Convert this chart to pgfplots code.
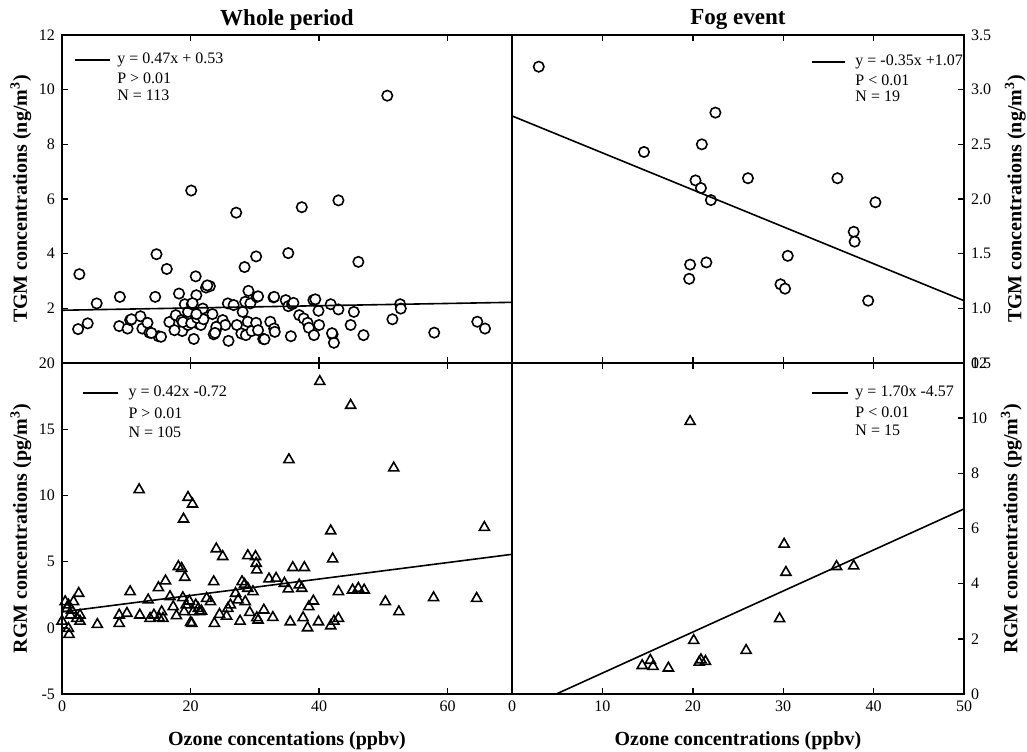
\documentclass[border=0pt]{standalone}
\usepackage{fontspec}
\setmainfont{Liberation Serif}
\usepackage{pgfplots}
\pgfplotsset{compat=1.18}

\pgfplotsset{
  panel/.style={
    scale only axis,
    axis line style={line width=1pt},
    tick align=inside,
    major tick length=3pt,
    tick style={line width=0.7pt, black},
    xtick pos=both,
    ticklabel style={font=\fontsize{8}{9}\selectfont},
    /pgf/number format/assume math mode=true,
    label style={font=\bfseries\fontsize{10}{12}\selectfont},
    xlabel style={yshift=-3pt},
    title style={font=\bfseries\fontsize{11.5}{13}\selectfont, yshift=-7pt},
    clip mode=individual,
  },
  circ/.style={only marks, mark=*, mark size=2.6pt,
    mark options={line width=0.8pt, draw=black, fill=white}},
  tri/.style={only marks, mark=triangle, mark size=2.9pt,
    mark options={line width=0.8pt, draw=black}},
  fitline/.style={no marks, line width=0.8pt, black},
}
\tikzset{leg/.style={anchor=west, inner sep=0pt, font=\fontsize{8}{9}\selectfont}}

\begin{document}
\begin{tikzpicture}

% top left: TGM, whole period
\begin{axis}[panel, at={(31pt,194pt)}, anchor=south west,
  width=225pt, height=164pt,
  xmin=0, xmax=70, ymin=0, ymax=12,
  xtick={0,20,40,60}, xticklabels={},
  ytick={2,4,...,12}, ytick pos=left,
  ylabel shift=-3pt,
  ylabel={TGM concentrations (ng/m\textsuperscript{3})},
  title={Whole period}]
\addplot[circ] table {
2.7 3.25
2.5 1.24
4.0 1.45
5.4 2.18
9.0 2.42
8.9 1.35
10.2 1.26
10.6 1.57
12.2 1.71
12.5 1.26
13.3 1.47
13.6 1.11
14.7 3.98
14.5 2.42
15.0 0.98
15.4 0.96
16.3 3.44
16.7 1.50
17.7 1.75
18.2 2.54
18.6 1.57
18.7 1.17
19.1 2.15
19.6 1.87
19.6 1.39
20.1 6.31
20.2 2.15
20.5 0.88
20.8 3.17
20.9 2.48
21.1 1.45
21.3 1.81
21.6 1.39
21.9 1.99
22.4 2.76
23.0 2.81
23.4 1.79
23.6 1.05
23.9 1.17
24.1 1.33
25.0 1.57
25.4 1.39
25.9 0.81
25.8 2.18
26.7 2.12
27.1 5.50
27.2 1.39
27.9 1.08
28.1 1.87
28.4 3.51
28.6 1.02
28.5 2.24
28.9 1.51
29.0 2.64
29.3 2.18
29.5 1.17
30.2 3.90
30.3 2.42
30.2 1.47
30.5 1.20
31.3 0.88
32.4 1.51
32.9 2.40
33.0 1.26
33.1 1.14
34.8 2.30
35.2 4.02
35.2 2.08
35.6 0.98
35.8 2.15
36.9 1.75
37.3 5.70
37.6 1.63
38.2 1.47
38.4 1.29
39.1 2.30
39.2 1.02
39.9 1.91
40.0 1.39
41.8 2.15
42.1 1.05
42.3 0.74
43.0 5.95
43.0 1.96
44.9 1.39
45.4 1.87
46.1 3.70
46.9 1.02
50.6 9.78
51.4 1.60
52.6 2.15
52.7 1.99
57.9 1.11
64.6 1.51
65.8 1.26
18.8 1.50
20.1 1.46
21.0 1.65
24.0 1.32
23.8 1.10
22.6 2.84
20.3 2.19
22.0 1.60
30.5 2.44
33.0 2.42
36.0 2.20
39.4 2.33
42.0 1.09
13.9 1.10
10.8 1.60
31.5 0.87
20.9 1.79
17.5 1.20
};
\addplot[fitline] coordinates {(0,1.93) (70,2.22)};
\draw[line width=0.8pt] (axis description cs:0.029,0.924) -- (axis description cs:0.107,0.924);
\node[leg] at (axis description cs:0.122,0.924) {y = 0.47x + 0.53};
\node[leg] at (axis description cs:0.122,0.869) {P > 0.01};
\node[leg] at (axis description cs:0.122,0.817) {N = 113};
\end{axis}

% top right: TGM, fog event
\begin{axis}[panel, at={(256pt,194pt)}, anchor=south west,
  width=226pt, height=164pt,
  xmin=0, xmax=50, ymin=0.5, ymax=3.5,
  xtick={0,10,...,50}, xticklabels={},
  ytick={0.5,1.0,...,3.5}, ytick pos=right, yticklabel pos=right,
  yticklabel style={/pgf/number format/.cd, fixed, fixed zerofill, precision=1},
  ylabel={TGM concentrations (ng/m\textsuperscript{3})},
  title={Fog event}]
\addplot[circ] table {
2.96 3.21
14.6 2.43
20.3 2.17
20.9 2.10
21.0 2.50
22.0 1.99
22.5 2.79
19.7 1.40
19.6 1.27
21.5 1.42
26.1 2.19
29.7 1.22
30.2 1.18
30.5 1.48
36.0 2.19
37.8 1.70
37.9 1.61
40.2 1.97
39.4 1.07
};
\addplot[fitline] coordinates {(0,2.76) (50,1.07)};
\draw[line width=0.8pt] (axis description cs:0.664,0.918) -- (axis description cs:0.737,0.918);
\node[leg] at (axis description cs:0.759,0.918) {y = -0.35x +1.07};
\node[leg] at (axis description cs:0.759,0.863) {P < 0.01};
\node[leg] at (axis description cs:0.759,0.814) {N = 19};
\end{axis}

% bottom left: RGM, whole period
\begin{axis}[panel, at={(31pt,28.5pt)}, anchor=south west,
  width=225pt, height=165.5pt,
  xmin=0, xmax=70, ymin=-5, ymax=20,
  xtick={0,20,40,60},
  ytick={-5,0,...,20}, ytick pos=left,
  ylabel shift=-3pt,
  xlabel={Ozone concentations (ppbv)},
  ylabel={RGM concentrations (pg/m\textsuperscript{3})}]
\addplot[tri] table {
0.0 0.5
0.5 1.97
0.8 1.46
1.0 1.72
1.3 0.96
1.0 -0.05
1.1 -0.5
1.5 1.34
1.8 1.97
2.3 0.71
2.6 2.6
2.8 0.5
2.8 0.96
5.5 0.25
8.9 0.33
8.9 0.96
10.1 1.09
10.6 2.73
12.0 10.43
12.1 0.96
13.4 2.1
13.7 0.71
14.3 0.96
15.0 3.03
15.1 0.76
15.5 1.21
15.7 0.71
16.1 3.54
16.8 2.35
17.3 1.59
17.8 0.91
18.1 4.62
18.6 4.49
18.9 8.21
19.1 3.81
18.8 2.27
19.0 1.21
19.3 1.72
19.6 9.85
20.3 9.34
19.8 2.02
20.0 0.4
20.2 0.33
20.4 1.21
20.8 1.72
21.2 1.46
21.4 1.21
21.7 1.26
22.5 2.22
23.1 1.97
23.6 3.48
23.7 0.33
24.0 5.96
25.0 5.38
24.5 1.01
25.6 0.88
25.8 1.46
26.2 1.72
27.0 2.6
27.4 2.1
27.7 0.5
28.0 3.48
28.4 3.28
28.5 1.97
28.9 5.45
28.9 2.98
29.2 1.16
29.7 2.73
30.1 5.38
30.2 4.87
30.3 4.37
30.3 0.76
30.5 0.58
31.4 1.34
32.2 3.69
32.8 0.78
33.3 3.74
34.6 3.36
35.3 12.7
35.2 2.93
35.5 0.45
35.9 4.55
36.9 3.23
37.3 2.98
37.7 4.55
37.5 0.76
38.2 0.0
38.4 1.59
39.1 2.02
39.9 0.45
40.1 18.6
41.8 7.32
42.1 5.2
41.8 0.15
42.3 0.5
43.0 0.71
43.0 2.73
44.9 16.8
45.2 2.85
46.1 2.98
47.0 2.85
50.3 1.97
51.6 12.07
52.4 1.21
57.8 2.27
64.5 2.22
65.7 7.58
};
\addplot[fitline] coordinates {(0,1.2) (70,5.55)};
\draw[line width=0.8pt] (axis description cs:0.047,0.909) -- (axis description cs:0.124,0.909);
\node[leg] at (axis description cs:0.147,0.909) {y = 0.42x -0.72};
\node[leg] at (axis description cs:0.147,0.849) {P > 0.01};
\node[leg] at (axis description cs:0.147,0.792) {N = 105};
\end{axis}

% bottom right: RGM, fog event
\begin{axis}[panel, at={(256pt,28.5pt)}, anchor=south west,
  width=226pt, height=165.5pt,
  xmin=0, xmax=50, ymin=0, ymax=12,
  xtick={0,10,...,50},
  ytick={0,2,...,12}, ytick pos=right, yticklabel pos=right,
  xlabel={Ozone concentrations (ppbv)},
  ylabel={RGM concentrations (pg/m\textsuperscript{3})}]
\addplot[tri] table {
19.7 9.88
14.4 1.03
15.3 1.22
15.6 1.00
17.3 0.94
20.1 1.94
20.7 1.15
20.9 1.24
21.4 1.18
25.9 1.58
29.6 2.73
30.1 5.43
30.3 4.41
35.9 4.62
37.8 4.64
};
\addplot[fitline] coordinates {(4.9,0) (50,6.71)};
\draw[line width=0.8pt] (axis description cs:0.664,0.909) -- (axis description cs:0.743,0.909);
\node[leg] at (axis description cs:0.759,0.909) {y = 1.70x -4.57};
\node[leg] at (axis description cs:0.759,0.852) {P < 0.01};
\node[leg] at (axis description cs:0.759,0.798) {N = 15};
\end{axis}

\pgfresetboundingbox
\path[use as bounding box] (0,0) rectangle (513.5pt,375.5pt);
\end{tikzpicture}
\end{document}
